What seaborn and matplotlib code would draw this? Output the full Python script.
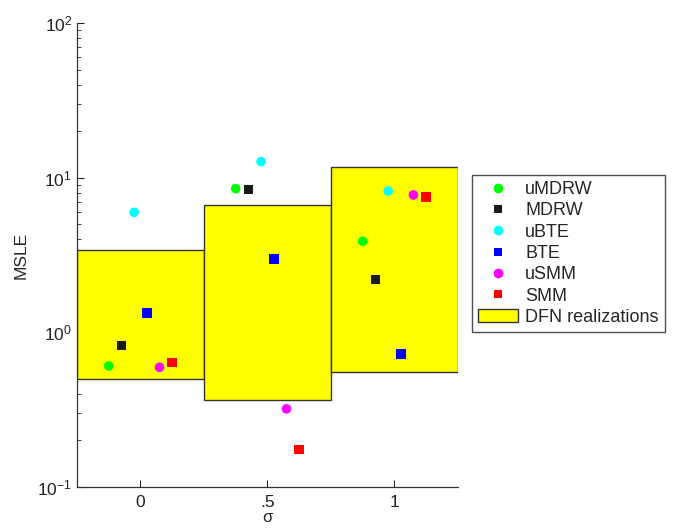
import matplotlib
matplotlib.use("Agg")
import matplotlib.pyplot as plt
import matplotlib.ticker as mticker
from matplotlib.lines import Line2D
from matplotlib.patches import Patch
import seaborn as sns
import pandas as pd

sigma = [0.0, 0.5, 1.0]
methods = ["uMDRW", "MDRW", "uBTE", "BTE", "uSMM", "SMM"]
offsets = [-0.125, -0.075, -0.025, 0.025, 0.075, 0.125]
colors = ["#00ff00", "#1a1a1a", "#00ffff", "#0000ff", "#ff00ff", "#ff0000"]
markers = ["o", "s", "o", "s", "o", "s"]

# MSLE per method, one value per sigma
msle = {
    "uMDRW": [0.606, 8.49, 3.88],
    "MDRW": [0.82, 8.4, 2.2],
    "uBTE": [5.97, 12.7, 8.2],
    "BTE": [1.33, 2.99, 0.725],
    "uSMM": [0.594, 0.32, 7.73],
    "SMM": [0.637, 0.175, 7.5],
}

# DFN realization range (min, max) per sigma
dfn_low = [0.497, 0.364, 0.557]
dfn_high = [3.43, 6.63, 11.7]

rows = []
for m, off in zip(methods, offsets):
    for s, v in zip(sigma, msle[m]):
        rows.append({"sigma": s + off, "MSLE": v, "method": m})
df = pd.DataFrame(rows)

sns.set_style("ticks")
plt.rcParams["font.family"] = ["Liberation Sans", "DejaVu Sans"]
plt.rcParams["mathtext.fontset"] = "custom"
plt.rcParams["mathtext.rm"] = "Liberation Sans"
plt.rcParams["mathtext.it"] = "Liberation Sans:italic"

fig = plt.figure(figsize=(6.73, 5.28), dpi=100)
ax = fig.add_axes([0.1144, 0.0777, 0.566, 0.8787])

heights = [h - l for h, l in zip(dfn_high, dfn_low)]
ax.bar(sigma, heights, bottom=dfn_low, width=0.5, color="#ffff00",
       edgecolor="#333333", linewidth=1.0, zorder=1)

sns.scatterplot(data=df, x="sigma", y="MSLE", hue="method", style="method",
                hue_order=methods, style_order=methods,
                palette=dict(zip(methods, colors)),
                markers=dict(zip(methods, markers)),
                s=48, linewidth=0, legend=False, ax=ax, zorder=3)

ax.set_yscale("log")
ax.set_ylim(0.1, 100)
ax.set_xlim(-0.25, 1.25)
ax.set_xticks(sigma)
ax.set_xticklabels(["0", ".5", "1"])
ax.yaxis.set_major_locator(mticker.LogLocator(base=10))
ax.yaxis.set_major_formatter(mticker.LogFormatterMathtext())
ax.yaxis.set_minor_locator(mticker.LogLocator(base=10, subs=range(2, 10)))
ax.yaxis.set_minor_formatter(mticker.NullFormatter())
ax.tick_params(axis="both", which="both", direction="in", labelsize=12.5,
               colors="#222222")
ax.tick_params(axis="both", which="major", length=5)
ax.tick_params(axis="y", which="minor", length=3)
ax.tick_params(axis="x", pad=6)
for sp in ["top", "right"]:
    ax.spines[sp].set_visible(False)
for sp in ["left", "bottom"]:
    ax.spines[sp].set_color("#333333")
    ax.spines[sp].set_linewidth(0.9)

ax.set_xlabel("σ", fontsize=12, labelpad=0)
ax.set_ylabel("MSLE", fontsize=12.5, labelpad=6)

handles = [Line2D([], [], linestyle="none", marker=mk, color=c,
                  markersize=7 if mk == "o" else 6, markeredgewidth=0)
           for mk, c in zip(markers, colors)]
handles.append(Patch(facecolor="#ffff00", edgecolor="#333333", linewidth=1.0))
leg = fig.legend(handles, methods + ["DFN realizations"],
                 loc="upper left", bbox_to_anchor=(0.701, 0.669),
                 fontsize=13, frameon=True, fancybox=False,
                 handlelength=2.2, handletextpad=0.4, labelspacing=0.24,
                 borderpad=0.35, borderaxespad=0)
leg.get_frame().set_edgecolor("#222222")
leg.get_frame().set_linewidth(1.0)

fig.savefig("out.png", dpi=100)
